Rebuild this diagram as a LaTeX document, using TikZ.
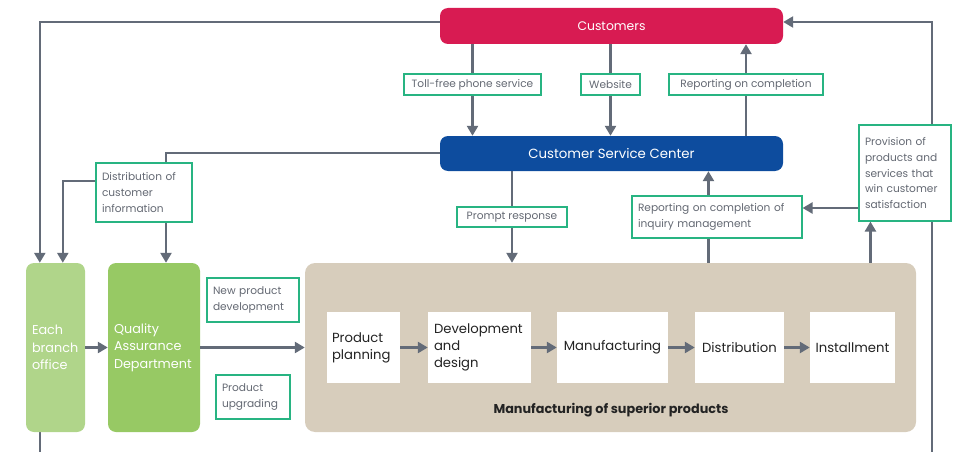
\documentclass[tikz,border=0pt]{standalone}
\usepackage{fontspec}
\setmainfont{Poppins}
\usetikzlibrary{arrows.meta,calc}
\definecolor{cred}{RGB}{216,27,82}
\definecolor{cblue}{RGB}{13,76,158}
\definecolor{ctan}{RGB}{215,205,188}
\definecolor{clgreen}{RGB}{176,213,138}
\definecolor{cgreen}{RGB}{151,201,100}
\definecolor{lineg}{RGB}{99,107,120}
\definecolor{lblg}{RGB}{40,180,130}
\definecolor{lblt}{RGB}{100,105,115}
\definecolor{darkt}{RGB}{35,35,35}
\pgfdeclarelayer{background}
\pgfsetlayers{background,main}
\begin{document}
\begin{tikzpicture}[x=1pt,y=-1pt,
  conn/.style={draw=lineg, line width=2.4pt},
  arr/.style={conn, -{Triangle[width=11pt,length=10pt]}},
  lbl/.style={draw=lblg, fill=white, line width=1.1pt, text=lblt, inner sep=0pt,
    font=\fontsize{10.6}{15.8}\selectfont},
  lblml/.style={lbl, align=left, inner xsep=6pt},
  topbox/.style={rounded corners=8pt, text=white, inner sep=0pt},
  sidebox/.style={rounded corners=8pt, text=white, inner sep=0pt, inner xsep=6pt, align=left,
    font=\fontsize{12.8}{17.5}\selectfont},
  inbox/.style={fill=white, text=darkt, inner sep=0pt, minimum height=71pt,
    font=\fontsize{13.2}{17}\selectfont},
]
\useasboundingbox (0,0) rectangle (970,452);
% main boxes
\node[topbox, fill=cred, minimum width=343pt, minimum height=36pt, font=\fontsize{12.4}{14}\selectfont] (cust) at (611.5,26) {Customers};
\node[topbox, fill=cblue, minimum width=343pt, minimum height=35pt, font=\fontsize{13.3}{14}\selectfont] (csc) at (611.5,153.5) {Customer Service Center};
\node[sidebox, fill=clgreen, text width=47pt, minimum height=169pt] (branch) at (55.5,347.5) {Each\\branch\\office};
\node[sidebox, fill=cgreen, text width=80pt, minimum height=169pt] (qa) at (154,347.5) {Quality\\Assurance\\Department};
\node[fill=ctan, rounded corners=10pt, minimum width=611pt, minimum height=169pt, inner sep=0pt] (big) at (610.5,347.5) {};
% labels
\node[lbl, minimum width=137pt, minimum height=21pt] (toll) at (472.5,84.5) {Toll-free phone service};
\node[lbl, minimum width=59pt, minimum height=21pt] (web) at (610.5,84.5) {Website};
\node[lbl, minimum width=154pt, minimum height=21pt] (rep) at (746,84.5) {Reporting on completion};
\node[lblml, text width=84pt, minimum height=59pt] (dist) at (144,192.5) {Distribution of\\customer\\information};
\node[lbl, minimum width=110pt, minimum height=20pt] (prompt) at (512,217) {Prompt response};
\node[lblml, text width=158pt, minimum height=42pt] (inq) at (717,217) {Reporting on completion of\\inquiry management};
\node[lblml, text width=80pt, minimum height=96pt] (prov) at (905,173) {Provision of\\products and\\services that\\win customer\\satisfaction};
\node[lblml, text width=80pt, minimum height=44pt] (newp) at (253,300) {New product\\development};
\node[lblml, text width=62pt, minimum height=44pt] (upg) at (253,397) {Product\\upgrading};
% inner boxes
\node[inbox, minimum width=73pt, text width=63pt, align=left] (pp) at (363.5,347.5) {Product\\planning};
\node[inbox, minimum width=103pt, text width=91pt, align=left] (dd) at (479.5,347.5) {Development\\and\\design};
\node[inbox, minimum width=111pt] (mf) at (612.5,347.5) {Manufacturing};
\node[inbox, minimum width=89pt] (di) at (739.5,347.5) {Distribution};
\node[inbox, minimum width=85pt] (inst) at (852.5,347.5) {Installment};
\node[text=darkt, font=\bfseries\fontsize{12.8}{14}\selectfont] (title) at (611,410) {Manufacturing of superior products};
% helper coordinates
\path (branch.north west) ++(14,0) coordinate (bA);
\path (branch.north west) ++(37,0) coordinate (bB);
\path (branch.south west) ++(14,0) coordinate (bC);
\path (qa.north) ++(12,0) coordinate (qT);
\path (inq.south west) ++(77,0) coordinate (iX);
\path (prov.south west) ++(12,0) coordinate (pX);
\coordinate (rbot) at (932,452);
\coordinate (lbot) at (40,452);
\begin{pgfonlayer}{background}
\draw[arr] ([yshift=4pt]cust.west) -| (bA);
\draw[conn] (bC) -- (bC |- lbot);
\draw[arr] ([yshift=11.5pt]dist.west) -| (bB);
\draw[arr] ([yshift=0.5pt]csc.west) -| (qT);
\draw[arr] (cust.south -| toll) -- (csc.north -| toll);
\draw[arr] (cust.south -| web) -- (csc.north -| web);
\draw[arr] (csc.north -| rep) -- (cust.south -| rep);
\draw[arr] (csc.south -| prompt) -- (big.north -| prompt);
\draw[arr] (big.north -| iX) -- (csc.south -| iX);
\draw[arr] (big.north -| pX) -- (prov.south -| pX);
\draw[arr] ([yshift=-35pt]prov.west) -- ([yshift=-35pt]prov.west -| inq.east);
\draw[arr] (rbot) |- ([yshift=4pt]cust.east);
\end{pgfonlayer}
\draw[arr] (branch.east) -- (qa.west);
\draw[arr] (qa.east) -- (big.west);
\draw[arr] (pp.east) -- (dd.west);
\draw[arr] (dd.east) -- (mf.west);
\draw[arr] (mf.east) -- (di.west);
\draw[arr] (di.east) -- (inst.west);
\end{tikzpicture}
\end{document}
